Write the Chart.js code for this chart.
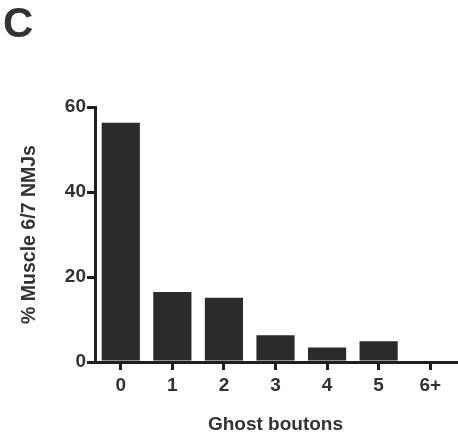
<!DOCTYPE html>
<html>
<head>
<meta charset="utf-8">
<script src="https://cdn.jsdelivr.net/npm/chart.js@4/dist/chart.umd.min.js"></script>
<style>
    body { margin: 0; background: #fff; }
    .panel { position: relative; width: 458px; height: 437px; }
    .panel-label {
        position: absolute; left: 3px; top: -1px;
        font: bold 42px "Liberation Sans", Arial, sans-serif; color: #333;
    }
</style>
</head>
<body>
<div class="panel">
    <div class="panel-label">C</div>
    <canvas id="chart" width="458" height="437"></canvas>
</div>
<script>
// Ghost bouton counts per NMJ (x) vs percentage of muscle 6/7 NMJs (y)
const categories = ['0', '1', '2', '3', '4', '5', '6+'];
const percentNMJs = [56.3, 16.5, 15.1, 6.3, 3.4, 4.9, 0];
const yTickValues = [0, 20, 40, 60];

const axisColor = '#1f1f1f';
const textColor = '#333';
const fontFamily = '"Liberation Sans", Arial, sans-serif';

new Chart(document.getElementById('chart'), {
    type: 'bar',
    data: {
        labels: categories,
        datasets: [{
            data: percentNMJs,
            backgroundColor: '#2b2b2b',
            borderWidth: 0,
            barPercentage: 0.74,
            categoryPercentage: 1,
        }],
    },
    options: {
        responsive: false,
        animation: false,
        layout: { padding: { top: 107, right: 2, bottom: 0, left: 0 } },
        plugins: { legend: { display: false }, tooltip: { enabled: false } },
        scales: {
            x: {
                offset: true,
                afterFit: (scale) => { scale.height = 75; },
                grid: {
                    offset: false,
                    drawOnChartArea: false,
                    tickLength: 8,
                    tickColor: axisColor,
                    lineWidth: 3,
                },
                border: { color: axisColor, width: 3 },
                ticks: {
                    color: textColor,
                    padding: 4,
                    font: { family: fontFamily, size: 19, weight: 'bold' },
                },
                title: {
                    display: true,
                    text: 'Ghost boutons',
                    color: textColor,
                    padding: { top: 0, bottom: 1 },
                    font: { family: fontFamily, size: 19, weight: 'bold' },
                },
            },
            y: {
                min: 0,
                max: 60,
                afterFit: (scale) => { scale.width = 95; },
                afterBuildTicks: (scale) => {
                    scale.ticks = yTickValues.map((v) => ({ value: v }));
                },
                grid: {
                    drawOnChartArea: false,
                    tickLength: 8,
                    tickColor: axisColor,
                    lineWidth: 3,
                },
                border: { color: axisColor, width: 3 },
                ticks: {
                    color: textColor,
                    padding: 1,
                    font: { family: fontFamily, size: 19, weight: 'bold' },
                },
                title: {
                    display: true,
                    text: '% Muscle 6/7 NMJs',
                    color: textColor,
                    padding: { top: 18, bottom: 0 },
                    font: { family: fontFamily, size: 19.5, weight: 'bold' },
                },
            },
        },
    },
});
</script>
</body>
</html>
